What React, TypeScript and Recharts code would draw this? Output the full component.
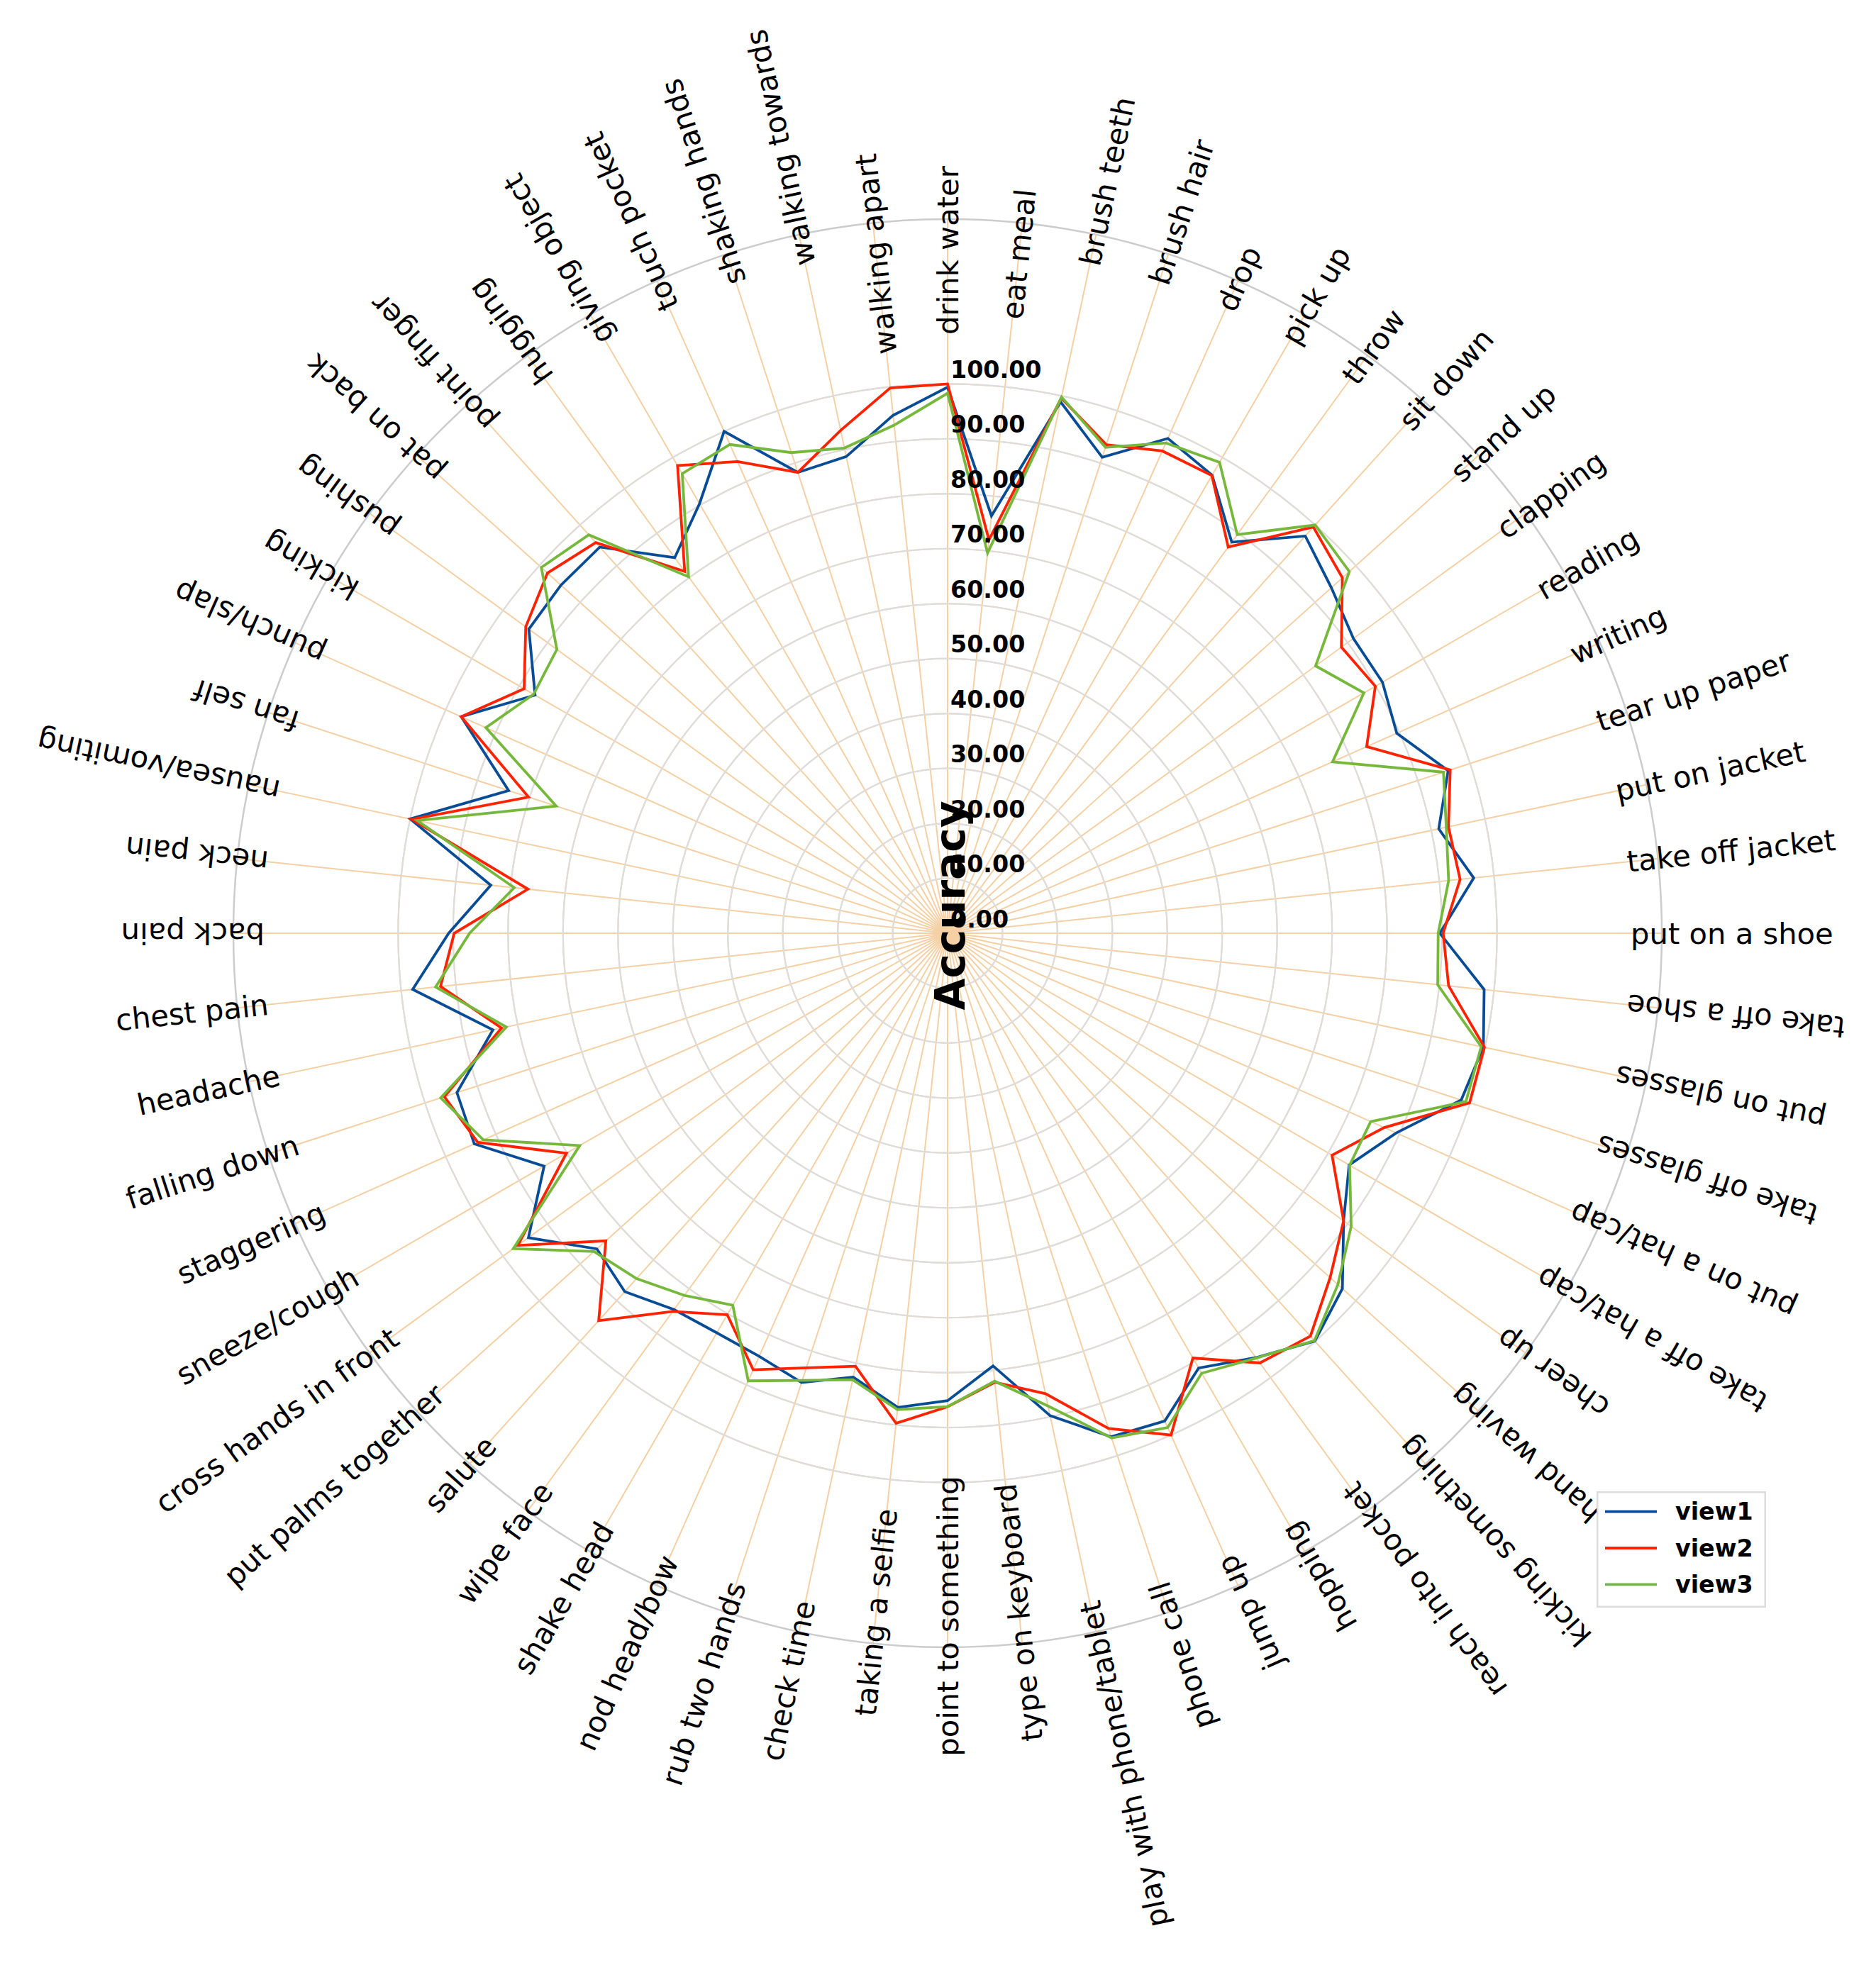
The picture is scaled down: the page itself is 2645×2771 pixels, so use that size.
import { ReactNode } from 'react';
import {
  Legend,
  PolarAngleAxis,
  PolarGrid,
  PolarRadiusAxis,
  Radar,
  RadarChart
} from 'recharts';

const actions = [
  'drink water', 'eat meal', 'brush teeth', 'brush hair', 'drop', 'pick up', 'throw', 'sit down',
  'stand up', 'clapping', 'reading', 'writing', 'tear up paper', 'put on jacket', 'take off jacket',
  'put on a shoe', 'take off a shoe', 'put on glasses', 'take off glasses', 'put on a hat/cap',
  'take off a hat/cap', 'cheer up', 'hand waving', 'kicking something', 'reach into pocket', 'hopping',
  'jump up', 'phone call', 'play with phone/tablet', 'type on keyboard', 'point to something',
  'taking a selfie', 'check time', 'rub two hands', 'nod head/bow', 'shake head', 'wipe face', 'salute',
  'put palms together', 'cross hands in front', 'sneeze/cough', 'staggering', 'falling down', 'headache',
  'chest pain', 'back pain', 'neck pain', 'nausea/vomiting', 'fan self', 'punch/slap', 'kicking',
  'pushing', 'pat on back', 'point finger', 'hugging', 'giving object', 'touch pocket', 'shaking hands',
  'walking towards', 'walking apart'
];

const view1 = [
  99.4, 76.4, 98.9, 91.1, 98.6, 96.3, 88.0, 97.3, 94.0, 91.3, 91.4, 89.5, 95.8, 91.4, 96.3,
  89.6, 98.2, 99.7, 98.3, 89.4, 84.4, 89.1, 96.7, 99.9, 95.5, 91.4, 97.2, 96.4, 89.8, 79.2,
  85.1, 86.8, 82.6, 86.0, 84.3, 84.0, 84.7, 87.8, 85.9, 94.3, 84.8, 94.3, 93.9, 84.6, 97.9,
  90.8, 83.6, 100.0, 84.0, 96.9, 86.7, 94.2, 94.7, 94.6, 84.5, 90.3, 100.0, 88.2, 88.7, 94.8
];

const view2 = [
  100.0, 72.0, 99.6, 93.5, 96.1, 96.2, 86.9, 99.5, 96.7, 88.6, 89.9, 83.5, 96.2, 93.2, 93.8,
  90.2, 91.7, 99.9, 99.9, 87.0, 80.8, 89.1, 93.7, 98.7, 96.7, 89.3, 100.0, 94.8, 85.7, 82.2,
  86.2, 89.7, 80.6, 83.2, 87.0, 80.2, 85.1, 94.9, 83.7, 96.7, 80.1, 93.6, 96.3, 83.0, 92.8,
  89.8, 76.8, 99.7, 80.2, 96.9, 89.0, 94.9, 98.0, 95.7, 81.4, 98.3, 94.0, 88.2, 93.6, 99.8
];

const view3 = [
  98.3, 69.6, 99.8, 93.0, 97.7, 99.0, 89.7, 100.0, 98.4, 82.8, 87.5, 76.7, 94.9, 92.8, 91.7,
  89.3, 89.7, 99.3, 99.2, 84.3, 84.5, 90.8, 95.6, 99.8, 95.6, 92.5, 98.5, 96.6, 88.0, 82.0,
  86.2, 87.2, 83.1, 85.6, 89.2, 78.2, 81.5, 84.6, 86.6, 97.7, 77.3, 92.5, 97.0, 82.1, 93.7,
  87.0, 79.3, 98.7, 74.9, 92.0, 87.0, 87.9, 99.5, 97.6, 80.2, 96.6, 97.4, 92.0, 90.3, 93.0
];

const radiusTicks = [0, 10, 20, 30, 40, 50, 60, 70, 80, 90, 100];

const W = 2645;
const H = 2771;
const CX = 1336;
const CY = 1316;
const OUTER = 1007;
const LABEL_RATIO = 963 / 1007;
const FONT = '"DejaVu Sans", sans-serif';

const seriesColors = { view1: '#094c96', view2: '#ff2200', view3: '#76b83c' };

function AngleTick(props: any): ReactNode {
  const { payload } = props;
  const cx = typeof props.cx === 'number' ? props.cx : CX;
  const cy = typeof props.cy === 'number' ? props.cy : CY;
  let a = payload.coordinate;
  while (a <= -180) a += 360;
  while (a > 180) a -= 360;
  const rad = (a * Math.PI) / 180;
  const r = OUTER * LABEL_RATIO;
  const x = cx + r * Math.cos(rad);
  const y = cy - r * Math.sin(rad);
  // labels on the upper half read outwards, the lower half reads inwards
  const upper = a >= 0;
  const rot = upper ? a : a + 180;
  const centered = Math.abs(Math.cos(rad)) < 0.15;
  const anchor = centered ? 'middle' : upper ? 'start' : 'end';
  return (
    <text
      x={x}
      y={y}
      transform={`rotate(${-rot} ${x} ${y})`}
      textAnchor={anchor}
      dominantBaseline="central"
      fontSize={41.7}
      fontFamily={FONT}
      fill="#000"
    >
      {payload.value}
    </text>
  );
}

function RadiusTick(props: any): ReactNode {
  const { x, y, payload } = props;
  return (
    <text
      x={x + 4}
      y={y - 20}
      textAnchor="start"
      dominantBaseline="central"
      fontSize={33.3}
      fontWeight="bold"
      fontFamily={FONT}
      fill="#000"
    >
      {Number(payload.value).toFixed(2)}
    </text>
  );
}

function LegendBox(props: any): ReactNode {
  const payload = props.payload || [];
  const rows = [28.7, 80, 131.3];
  return (
    <svg width={239} height={164}>
      <rect x={1.25} y={1.25} width={236.5} height={161.5} fill="#fff" stroke="#dcdcdc" strokeWidth={2.5} />
      {payload.map((entry: any, i: number) => (
        <g key={entry.value}>
          <line
            x1={12}
            x2={85}
            y1={rows[i]}
            y2={rows[i]}
            stroke={entry.color || (seriesColors as any)[entry.value]}
            strokeWidth={3.8}
          />
          <text
            x={111}
            y={rows[i]}
            dominantBaseline="central"
            fontSize={33.3}
            fontWeight="bold"
            fontFamily={FONT}
            fill="#000"
          >
            {entry.value}
          </text>
        </g>
      ))}
    </svg>
  );
}

export default function App(): ReactNode {
  const data = actions.map((action, i) => ({
    action,
    view1: view1[i],
    view2: view2[i],
    view3: view3[i]
  }));

  return (
    <div style={{ position: 'absolute', left: 0, top: 0, width: W, height: H, background: '#fff' }}>
      <RadarChart
        width={W}
        height={H}
        data={data}
        cx={CX}
        cy={CY}
        outerRadius={OUTER}
        startAngle={90}
        endAngle={-270}
        margin={{ top: 0, right: 0, bottom: 0, left: 0 }}
      >
        <PolarGrid gridType="circle" stroke="#f4d0a4" strokeWidth={2} />
        <PolarGrid gridType="circle" radialLines={false} stroke="#dddddd" strokeWidth={2.2} />
        <PolarAngleAxis
          dataKey="action"
          tick={AngleTick}
          tickLine={false}
          axisLine={{ stroke: '#cccccc', strokeWidth: 2.5 }}
          axisLineType="circle"
        />
        <PolarRadiusAxis
          angle={90}
          domain={[0, 130]}
          ticks={radiusTicks}
          tick={RadiusTick}
          axisLine={false}
          tickLine={false}
        />
        <Radar name="view1" dataKey="view1" stroke={seriesColors.view1} strokeWidth={3.8} fill="none" fillOpacity={0} dot={false} isAnimationActive={false} />
        <Radar name="view2" dataKey="view2" stroke={seriesColors.view2} strokeWidth={3.8} fill="none" fillOpacity={0} dot={false} isAnimationActive={false} />
        <Radar name="view3" dataKey="view3" stroke={seriesColors.view3} strokeWidth={3.8} fill="none" fillOpacity={0} dot={false} isAnimationActive={false} />
        <Legend
          content={LegendBox}
          wrapperStyle={{ position: 'absolute', left: 2251, top: 2103, width: 239, height: 164 }}
        />
        <text
          x={1360}
          y={1277}
          transform="rotate(-90 1360 1277)"
          textAnchor="middle"
          fontSize={58}
          fontWeight="bold"
          fontFamily={FONT}
          fill="#000"
        >
          Accuracy
        </text>
      </RadarChart>
    </div>
  );
}
